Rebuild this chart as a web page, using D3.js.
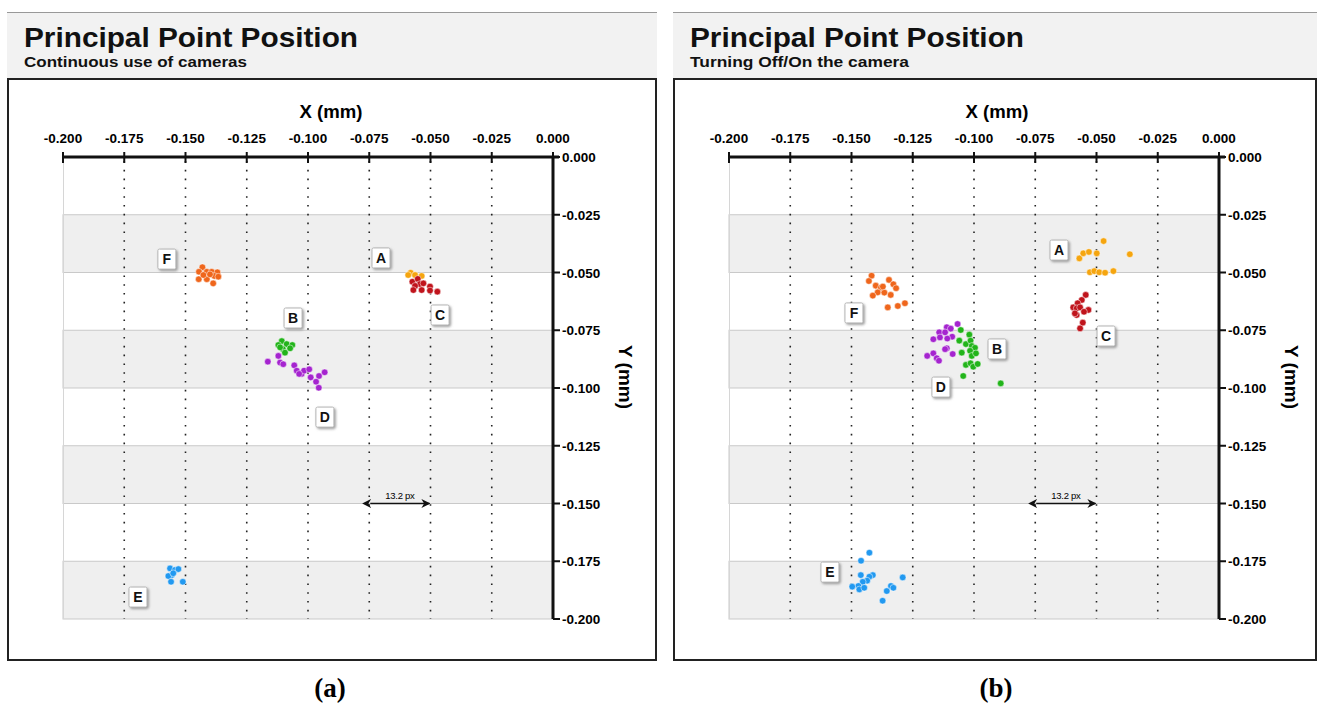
<!DOCTYPE html>
<html lang="en">

<head>
    <title>Principal Point Position</title>
    <meta charset="utf-8">
    <script src="https://d3js.org/d3.v7.min.js"></script>
    <style>
        body { margin: 0; background: #fff; }
        svg text { font-family: "Liberation Sans", Arial, sans-serif; }
    </style>
</head>

<body>
    <div id="container"></div>
    <script>
        // Axis ticks (mm)
        const xTicks = [-0.200, -0.175, -0.150, -0.125, -0.100, -0.075, -0.050, -0.025, 0.000];
        const yTicks = [0.000, -0.025, -0.050, -0.075, -0.100, -0.125, -0.150, -0.175, -0.200];
        const seriesNames = ["A", "B", "C", "D", "E", "F"];
        const seriesColors = ["#f5a50f", "#22b41a", "#c0141c", "#a524cf", "#2299f0", "#ef661c"];

        // (a) Continuous use of cameras: [x, y] in mm
        const contA = [[-0.0581, -0.0501], [-0.0563, -0.0511], [-0.0536, -0.0515], [-0.0591, -0.0511]];
        const contB = [[-0.1107, -0.0797], [-0.1121, -0.0814], [-0.1087, -0.0810], [-0.1064, -0.0814],
            [-0.1103, -0.0831], [-0.1073, -0.0828], [-0.1094, -0.0847], [-0.1114, -0.0824]];
        const contC = [[-0.0574, -0.0540], [-0.0552, -0.0528], [-0.0543, -0.0550], [-0.0529, -0.0547],
            [-0.0563, -0.0558], [-0.0536, -0.0576], [-0.0570, -0.0576], [-0.0502, -0.0561],
            [-0.0472, -0.0583], [-0.0502, -0.0578]];
        const contD = [[-0.1164, -0.0886], [-0.1121, -0.0861], [-0.1114, -0.0890], [-0.1101, -0.0897],
            [-0.1056, -0.0902], [-0.1046, -0.0925], [-0.1026, -0.0939], [-0.1016, -0.0925],
            [-0.1036, -0.0939], [-0.0995, -0.0919], [-0.0989, -0.0954], [-0.0955, -0.0948],
            [-0.0932, -0.0932], [-0.0967, -0.0973], [-0.0956, -0.0999]];
        const contE = [[-0.1563, -0.1781], [-0.1543, -0.1788], [-0.1556, -0.1810], [-0.1570, -0.1814],
            [-0.1529, -0.1784], [-0.1559, -0.1839], [-0.1511, -0.1839], [-0.1550, -0.1802]];
        const contF = [[-0.1431, -0.0477], [-0.1445, -0.0497], [-0.1413, -0.0497], [-0.1393, -0.0497],
            [-0.1370, -0.0499], [-0.1382, -0.0515], [-0.1446, -0.0529], [-0.1413, -0.0529],
            [-0.1387, -0.0547], [-0.1366, -0.0518], [-0.1427, -0.0511], [-0.1400, -0.0508]];

        // (b) Turning Off/On the camera: [x, y] in mm
        const offA = [[-0.0570, -0.0439], [-0.0554, -0.0417], [-0.0531, -0.0411], [-0.0499, -0.0417],
            [-0.0471, -0.0364], [-0.0364, -0.0421], [-0.0527, -0.0499], [-0.0509, -0.0494],
            [-0.0489, -0.0499], [-0.0465, -0.0501], [-0.0431, -0.0494]];
        const offB = [[-0.1054, -0.0749], [-0.1019, -0.0769], [-0.1060, -0.0795], [-0.1033, -0.0810],
            [-0.1014, -0.0795], [-0.1009, -0.0818], [-0.0996, -0.0826], [-0.1016, -0.0839],
            [-0.1050, -0.0847], [-0.1009, -0.0861], [-0.0992, -0.0850], [-0.1033, -0.0900],
            [-0.1014, -0.0893], [-0.1003, -0.0908], [-0.0985, -0.0896], [-0.1044, -0.0948],
            [-0.0891, -0.0980]];
        const offC = [[-0.0544, -0.0597], [-0.0560, -0.0619], [-0.0577, -0.0633], [-0.0595, -0.0651],
            [-0.0581, -0.0655], [-0.0567, -0.0651], [-0.0533, -0.0662], [-0.0581, -0.0684],
            [-0.0556, -0.0717], [-0.0567, -0.0742], [-0.0588, -0.0677], [-0.0551, -0.0670]];
        const offD = [[-0.1067, -0.0723], [-0.1111, -0.0737], [-0.1095, -0.0743], [-0.1142, -0.0759],
            [-0.1118, -0.0759], [-0.1089, -0.0778], [-0.1109, -0.0786], [-0.1139, -0.0781],
            [-0.1166, -0.0789], [-0.1111, -0.0828], [-0.1118, -0.0832], [-0.1087, -0.0853],
            [-0.1191, -0.0861], [-0.1166, -0.0850], [-0.1152, -0.0871], [-0.1143, -0.0882]];
        const offE = [[-0.1427, -0.1713], [-0.1461, -0.1748], [-0.1462, -0.1810], [-0.1413, -0.1810],
            [-0.1427, -0.1817], [-0.1436, -0.1834], [-0.1454, -0.1839], [-0.1472, -0.1857],
            [-0.1497, -0.1860], [-0.1468, -0.1872], [-0.1448, -0.1865], [-0.1339, -0.1857],
            [-0.1329, -0.1865], [-0.1356, -0.1879], [-0.1291, -0.1820], [-0.1373, -0.1921]];
        const offF = [[-0.1418, -0.0514], [-0.1429, -0.0537], [-0.1401, -0.0557], [-0.1380, -0.0566],
            [-0.1347, -0.0532], [-0.1329, -0.0551], [-0.1318, -0.0568], [-0.1393, -0.0586],
            [-0.1366, -0.0587], [-0.1413, -0.0600], [-0.1340, -0.0597], [-0.1352, -0.0651],
            [-0.1311, -0.0645], [-0.1282, -0.0633], [-0.1372, -0.0561]];

        // Label boxes [x, y] in mm, order A..F
        const contLabels = [[-0.0702, -0.0437], [-0.1061, -0.0697], [-0.0461, -0.0684],
            [-0.0931, -0.1126], [-0.1694, -0.1905], [-0.1576, -0.0442]];
        const offLabels = [[-0.0653, -0.0403], [-0.0906, -0.0831], [-0.0461, -0.0775],
            [-0.1135, -0.0996], [-0.1588, -0.1797], [-0.1490, -0.0675]];

        const panels = [
            { x0: 7, w: 650, subtitle: "Continuous use of cameras", subLen: 223, caption: "(a)",
              series: [contA, contB, contC, contD, contE, contF], labels: contLabels },
            { x0: 673, w: 644, subtitle: "Turning Off/On the camera", subLen: 219, caption: "(b)",
              series: [offA, offB, offC, offD, offE, offF], labels: offLabels }
        ];

        // Chart dimensions
        const plot = { left: 56, top: 157, width: 490, height: 462 };

        const svg = d3.select("#container")
            .append("svg")
            .attr("width", 1323)
            .attr("height", 704);

        const defs = svg.append("defs");

        const shadow = defs.append("filter")
            .attr("id", "shadow")
            .attr("x", "-30%").attr("y", "-30%")
            .attr("width", "170%").attr("height", "170%");
        shadow.append("feDropShadow")
            .attr("dx", 1.5).attr("dy", 1.5)
            .attr("stdDeviation", 0.8)
            .attr("flood-color", "#888")
            .attr("flood-opacity", 0.8);

        ["start", "end"].forEach(k => {
            defs.append("marker")
                .attr("id", "arrow-" + k)
                .attr("viewBox", "0 0 10 10")
                .attr("refX", k === "end" ? 9 : 1)
                .attr("refY", 5)
                .attr("markerWidth", 9)
                .attr("markerHeight", 9)
                .attr("markerUnits", "userSpaceOnUse")
                .attr("orient", "auto-start-reverse")
                .append("path")
                .attr("d", "M0,0 L10,5 L0,10 L3,5 Z")
                .attr("fill", "#111");
        });

        const xScale = d3.scaleLinear().domain([-0.2, 0]).range([0, plot.width]);
        const yScale = d3.scaleLinear().domain([0, -0.2]).range([0, plot.height]);
        const fmt = d => d3.format(".3f")(d).replace("−", "-");

        panels.forEach(p => {
            const g = svg.append("g").attr("transform", `translate(${p.x0},0)`);

            // Header
            g.append("rect")
                .attr("x", 0).attr("y", 12)
                .attr("width", p.w).attr("height", 66)
                .attr("fill", "#f2f2f2");
            g.append("line")
                .attr("x1", 0).attr("x2", p.w)
                .attr("y1", 12.5).attr("y2", 12.5)
                .attr("stroke", "#999");
            g.append("text")
                .attr("x", 17).attr("y", 47)
                .attr("font-size", 27)
                .attr("font-weight", "bold")
                .attr("fill", "#111")
                .attr("textLength", 334)
                .attr("lengthAdjust", "spacingAndGlyphs")
                .text("Principal Point Position");
            g.append("text")
                .attr("x", 17).attr("y", 67)
                .attr("font-size", 15)
                .attr("font-weight", "bold")
                .attr("fill", "#111")
                .attr("textLength", p.subLen)
                .attr("lengthAdjust", "spacingAndGlyphs")
                .text(p.subtitle);

            // Frame
            g.append("rect")
                .attr("x", 1).attr("y", 79)
                .attr("width", p.w - 2).attr("height", 581)
                .attr("fill", "#fff")
                .attr("stroke", "#222")
                .attr("stroke-width", 2);

            const pg = g.append("g").attr("transform", `translate(${plot.left},${plot.top})`);

            // Bands
            const bandData = d3.range(1, yTicks.length - 1, 2).map(i => [yTicks[i], yTicks[i + 1]]);
            pg.selectAll(".band")
                .data(bandData)
                .join("rect")
                .attr("class", "band")
                .attr("x", 0)
                .attr("y", d => yScale(d[0]))
                .attr("width", plot.width)
                .attr("height", d => yScale(d[1]) - yScale(d[0]))
                .attr("fill", "#efefef")
                .attr("stroke", "#c9c9c9");

            pg.append("line")
                .attr("x1", 0.5).attr("x2", 0.5)
                .attr("y1", 0).attr("y2", plot.height)
                .attr("stroke", "#d6d6d6");

            // Dotted grid
            pg.selectAll(".grid")
                .data(xTicks.slice(1, -1))
                .join("line")
                .attr("class", "grid")
                .attr("x1", d => xScale(d)).attr("x2", d => xScale(d))
                .attr("y1", 4).attr("y2", plot.height)
                .attr("stroke", "#222")
                .attr("stroke-width", 1.6)
                .attr("stroke-dasharray", "1.6,7.2");

            // X axis (top)
            pg.append("line")
                .attr("x1", 0).attr("x2", plot.width + 6)
                .attr("y1", 0).attr("y2", 0)
                .attr("stroke", "#111").attr("stroke-width", 3);
            pg.selectAll(".xtick")
                .data(xTicks)
                .join("line")
                .attr("class", "xtick")
                .attr("x1", d => xScale(d)).attr("x2", d => xScale(d))
                .attr("y1", -5).attr("y2", 6)
                .attr("stroke", "#111").attr("stroke-width", 2);
            pg.selectAll(".xlab")
                .data(xTicks)
                .join("text")
                .attr("class", "xlab")
                .attr("x", d => xScale(d))
                .attr("y", -14)
                .attr("text-anchor", "middle")
                .attr("font-size", 13.5)
                .attr("font-weight", "bold")
                .text(fmt);
            pg.append("text")
                .attr("x", plot.width / 2 + 23)
                .attr("y", -39)
                .attr("text-anchor", "middle")
                .attr("font-size", 18)
                .attr("font-weight", "bold")
                .attr("textLength", 63)
                .attr("lengthAdjust", "spacingAndGlyphs")
                .text("X (mm)");

            // Y axis (right)
            pg.append("line")
                .attr("x1", plot.width).attr("x2", plot.width)
                .attr("y1", 0).attr("y2", plot.height)
                .attr("stroke", "#111").attr("stroke-width", 3);
            pg.selectAll(".ytick")
                .data(yTicks)
                .join("line")
                .attr("class", "ytick")
                .attr("x1", plot.width).attr("x2", plot.width + 7)
                .attr("y1", d => yScale(d)).attr("y2", d => yScale(d))
                .attr("stroke", "#111").attr("stroke-width", 2);
            pg.selectAll(".ylab")
                .data(yTicks)
                .join("text")
                .attr("class", "ylab")
                .attr("x", plot.width + 9)
                .attr("y", d => yScale(d) + 5)
                .attr("font-size", 13.5)
                .attr("font-weight", "bold")
                .text(fmt);
            pg.append("text")
                .attr("transform", `translate(${plot.width + 66},${plot.height / 2 - 11}) rotate(90)`)
                .attr("text-anchor", "middle")
                .attr("font-size", 18)
                .attr("font-weight", "bold")
                .attr("textLength", 64)
                .attr("lengthAdjust", "spacingAndGlyphs")
                .text("Y (mm)");

            // 13.2 px annotation
            pg.append("line")
                .attr("x1", xScale(-0.075) + 1).attr("x2", xScale(-0.050) - 1)
                .attr("y1", yScale(-0.150)).attr("y2", yScale(-0.150))
                .attr("stroke", "#111").attr("stroke-width", 1.3)
                .attr("marker-start", "url(#arrow-start)")
                .attr("marker-end", "url(#arrow-end)");
            pg.append("text")
                .attr("x", (xScale(-0.075) + xScale(-0.050)) / 2)
                .attr("y", yScale(-0.150) - 5)
                .attr("text-anchor", "middle")
                .attr("font-size", 9.5)
                .attr("letter-spacing", -0.3)
                .text("13.2 px");

            // Points
            p.series.forEach((pts, i) => {
                pg.selectAll(".pt" + i)
                    .data(pts)
                    .join("circle")
                    .attr("class", "pt" + i)
                    .attr("cx", d => xScale(d[0]))
                    .attr("cy", d => yScale(d[1]))
                    .attr("r", 3.3)
                    .attr("fill", seriesColors[i])
                    .attr("stroke", "#fff")
                    .attr("stroke-width", 0.5);
            });

            // Label boxes
            const lab = pg.selectAll(".lab")
                .data(p.labels)
                .join("g")
                .attr("class", "lab")
                .attr("transform", d => `translate(${xScale(d[0])},${yScale(d[1])})`);
            lab.append("rect")
                .attr("x", -9).attr("y", -10)
                .attr("width", 18).attr("height", 20)
                .attr("rx", 1.5)
                .attr("fill", "#fff")
                .attr("stroke", "#b5b5b5")
                .style("filter", "url(#shadow)");
            lab.append("text")
                .attr("y", 5)
                .attr("text-anchor", "middle")
                .attr("font-size", 14)
                .attr("font-weight", "bold")
                .attr("fill", "#111")
                .text((d, i) => seriesNames[i]);

            // Caption
            svg.append("text")
                .attr("x", p.x0 + 323)
                .attr("y", 697)
                .attr("text-anchor", "middle")
                .style("font-family", "'Liberation Serif', 'Times New Roman', serif")
                .attr("font-size", 27)
                .attr("font-weight", "bold")
                .text(p.caption);
        });
    </script>
</body>

</html>
